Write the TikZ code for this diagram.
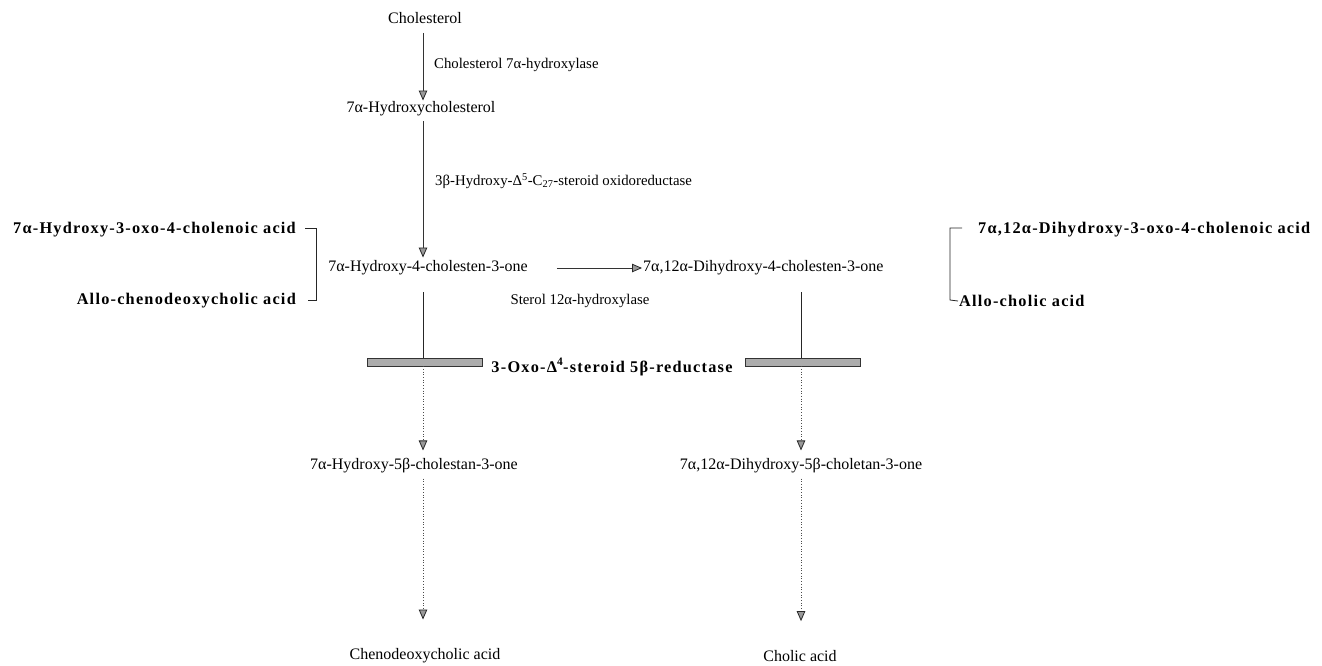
\documentclass[tikz,border=0pt]{standalone}
\usepackage{fontspec}
\setmainfont{Liberation Serif}
\newfontfamily\bsp[LetterSpace=7.5]{Liberation Serif}
\usetikzlibrary{arrows.meta,calc}
\begin{document}
\begin{tikzpicture}[x=1pt,y=-1pt,
  cmp/.style={inner sep=1pt,font=\fontsize{16}{18}\selectfont},
  enz/.style={inner sep=1pt,font=\fontsize{14.8}{17}\selectfont},
  bcmp/.style={inner sep=1pt,font=\bsp\bfseries\fontsize{16.3}{19}\selectfont},
  tip/.style={-{Triangle[length=10pt,width=8.5pt,fill=gray!80,color=black!85,line width=0.8pt]}},
  arr/.style={tip,draw=black!80,line width=0.7pt},
  dotarr/.style={tip,draw=black!70,line width=0.7pt,dotted},
  plain/.style={draw=black!85,line width=0.8pt},
  barbox/.style={draw=black!80,fill=gray!65,line width=0.5pt,minimum width=115pt,minimum height=8pt,inner sep=0pt}]
\useasboundingbox (0,0) rectangle (1322,665);
% compounds
\node[cmp] (chol) at (425,18) {Cholesterol};
\node[cmp] (hc) at (421,109) {7α-Hydroxycholesterol};
\node[cmp] (one) at (428,268) {7α-Hydroxy-4-cholesten-3-one};
\node[cmp,anchor=west] (di) at (642,268) {7α,12α-Dihydroxy-4-cholesten-3-one};
\node[cmp] (cl) at (414,466) {7α-Hydroxy-5β-cholestan-3-one};
\node[cmp] (cr) at (801,466) {7α,12α-Dihydroxy-5β-choletan-3-one};
\node[cmp] (cheno) at (425,656) {Chenodeoxycholic acid};
\node[cmp] (cholic) at (800,656) {Cholic acid};
% enzymes
\node[enz,anchor=west] (e1) at (433,65) {Cholesterol 7α-hydroxylase};
\node[enz,anchor=west] (e2) at (434,181) {3β-Hydroxy-Δ\textsuperscript{5}-C\textsubscript{27}-steroid oxidoreductase};
\node[enz] (e3) at (580,301) {Sterol 12α-hydroxylase};
% side products
\node[bcmp,anchor=east] (l1) at (297,230) {7α-Hydroxy-3-oxo-4-cholenoic acid};
\node[bcmp,anchor=east] (l2) at (297,301) {Allo-chenodeoxycholic acid};
\node[bcmp,anchor=west] (r1) at (977,230) {7α,12α-Dihydroxy-3-oxo-4-cholenoic acid};
\node[bcmp,anchor=west] (r2) at (958,301) {Allo-cholic acid};
% reductase bars
\node[barbox] (barL) at (424.5,362) {};
\node[barbox] (barR) at (802.5,362) {};
\node[bcmp] (red) at (612,367) {3-Oxo-Δ\textsuperscript{4}-steroid 5β-reductase};
% x positions
\coordinate (xl) at (423,0);
\coordinate (xr) at (801,0);
% arrows
\draw[arr] ($(chol.south -| xl)+(0,8)$) -- (hc.north -| xl);
\draw[arr] ($(hc.south -| xl)+(0,4)$) -- ($(one.north -| xl)+(0,-2)$);
\draw[arr] ($(one.east)+(28,0)$) -- (di.west);
\draw[plain] ($(one.south -| xl)+(0,16)$) -- (barL.north -| xl);
\draw[plain] ($(di.south -| xr)+(0,16)$) -- (barR.north -| xr);
\draw[dotarr] (barL.south -| xl) -- ($(cl.north -| xl)+(0,-7)$);
\draw[dotarr] (barR.south -| xr) -- ($(cr.north -| xr)+(0,-7)$);
\draw[dotarr] ($(cl.south -| xl)+(0,4)$) -- ($(cheno.north -| xl)+(0,-28)$);
\draw[dotarr] ($(cr.south -| xr)+(0,4)$) -- ($(cholic.north -| xr)+(0,-28)$);
% brackets
\draw[plain] (305,228) -- (316,228) -- (316,300) -- (308,300);
\draw[plain] (962,228) -- (950,228) -- (950,300) -- (r2.west);
\end{tikzpicture}
\end{document}
